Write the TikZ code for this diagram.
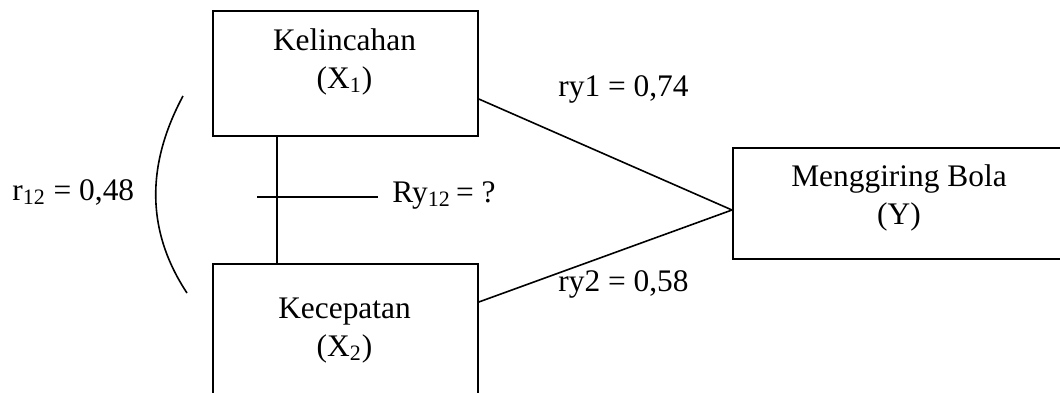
\documentclass[tikz,border=0pt]{standalone}
\usepackage{fontspec}
\setmainfont{Liberation Serif}
\begin{document}
\begin{tikzpicture}[x=0.5pt,y=-0.5pt,
  box/.style={draw,line width=0.9pt,rectangle,inner sep=0pt,anchor=north west},
  lbl/.style={inner sep=0pt,font=\fontsize{15.7pt}{19pt}\selectfont},
  conn/.style={line width=0.8pt}]
\useasboundingbox (0,0) rectangle (1060,392);
\clip (0,0) rectangle (1060,392);
% boxes
\node[box,minimum width=132.5pt,minimum height=62.5pt] (x1) at (212,10) {};
\node[box,minimum width=132.5pt,minimum height=70pt] (x2) at (212,263) {};
\node[box,minimum width=185pt,minimum height=55.5pt] (y) at (732,147) {};
% box texts
\node[lbl,anchor=base] (x1t) at (344.5,50) {\begin{tabular}[t]{@{}c@{}}Kelincahan\\(X\textsubscript{1})\end{tabular}};
\node[lbl,anchor=base] (x2t) at (344.5,318) {\begin{tabular}[t]{@{}c@{}}Kecepatan\\(X\textsubscript{2})\end{tabular}};
\node[lbl,anchor=base] (yt) at (899,186) {\begin{tabular}[t]{@{}c@{}}Menggiring Bola\\(Y)\end{tabular}};
% connectors to Y
\coordinate (s1) at ([yshift=-44.5pt]x1.north east);
\coordinate (s2) at ([yshift=-19.5pt]x2.north east);
\coordinate (m) at ([yshift=-31.5pt]y.north west);
\draw[conn] (s1) -- (m);
\draw[conn] (s2) -- (m);
% vertical link X1-X2
\coordinate (v1) at ([xshift=32.5pt]x1.south west);
\draw[conn] (v1) -- (v1 |- x2.north);
% horizontal pointer
\coordinate (h0) at (257,197);
\coordinate (h1) at (378,197);
\draw[conn] (h0) -- (h1);
\node[lbl,anchor=base west] (ry) at (392,202) {Ry\textsubscript{12}\,= ?};
% arc
\coordinate (a1) at (183,96);
\coordinate (a2) at (187,293);
\draw[conn] (a1) .. controls (146,165) and (146,231) .. (a2);
% labels
\node[lbl,anchor=base west] (r12) at (12,200) {r\textsubscript{12} = 0,48};
\node[lbl,anchor=base west] (ry1) at (558,96) {ry1 = 0,74};
\node[lbl,anchor=base west] (ry2) at (558,291) {ry2 = 0,58};
\end{tikzpicture}
\end{document}
